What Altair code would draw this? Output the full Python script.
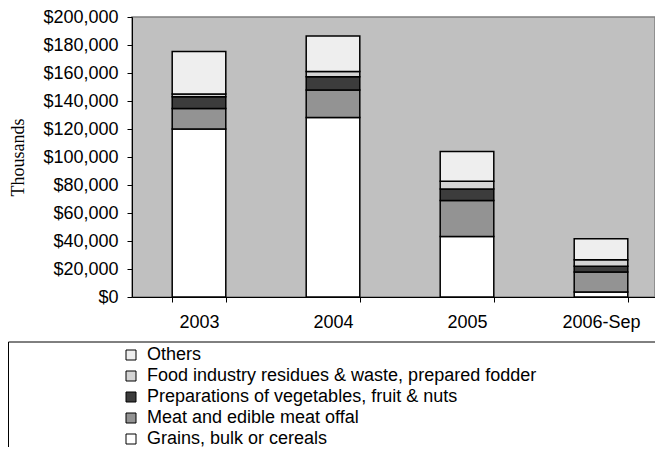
import altair as alt
import pandas as pd

years = ["2003", "2004", "2005", "2006-Sep"]
series = [
    "Grains, bulk or cereals",
    "Meat and edible meat offal",
    "Preparations of vegetables, fruit & nuts",
    "Food industry residues & waste, prepared fodder",
    "Others",
]
grains = [120000, 128300, 43200, 3600]
meat = [14700, 19500, 25700, 14200]
prep = [8300, 9500, 8300, 4100]
food = [2000, 3700, 5500, 4700]
others = [30300, 25500, 21300, 15000]
colors = ["#ffffff", "#939393", "#3c3c3c", "#d4d4d4", "#eeeeee"]
y_ticks = [0, 20000, 40000, 60000, 80000, 100000, 120000, 140000, 160000, 180000, 200000]

rows = []
for i, s in enumerate(series):
    vals = [grains, meat, prep, food, others][i]
    for y, v in zip(years, vals):
        rows.append({"year": y, "series": s, "value": v, "order": i})
df = pd.DataFrame(rows)

legend_order = list(reversed(series))
legend_colors = list(reversed(colors))

bars = alt.Chart(df).mark_bar(stroke="black", strokeWidth=1.5).encode(
    x=alt.X("year:N", sort=years, title=None,
            scale=alt.Scale(paddingInner=0.6, paddingOuter=0.3, range=[0, 536]),
            axis=alt.Axis(labelAngle=0, tickBand="extent", labelFontSize=18,
                          labelFont="Liberation Sans", labelColor="black",
                          domainColor="black", tickColor="black", tickSize=5,
                          labelPadding=11, domainWidth=1)),
    y=alt.Y("value:Q", stack="zero", title="Thousands",
            scale=alt.Scale(domain=[0, 200000], nice=False),
            axis=alt.Axis(values=y_ticks, format="$,.0f", grid=False,
                          labelFontSize=18, labelFont="Liberation Sans",
                          labelColor="black", domainColor="black",
                          tickColor="black", tickSize=5, labelPadding=9,
                          titleFont="Liberation Serif", titleFontSize=18,
                          titleFontWeight="normal", titleColor="black",
                          titleAngle=270, titleX=-114, titleY=140,
                          titleAlign="center", titleBaseline="middle")),
    fill=alt.Fill("series:N", sort=legend_order,
                  scale=alt.Scale(domain=legend_order, range=legend_colors),
                  legend=alt.Legend(title=None, orient="none", legendX=-10,
                                    legendY=329, symbolType="square",
                                    symbolSize=100, symbolStrokeColor="black",
                                    symbolStrokeWidth=1, labelFontSize=18,
                                    labelFont="Liberation Sans",
                                    labelColor="black", labelOffset=7,
                                    rowPadding=3, padding=0, labelLimit=600)),
    order=alt.Order("order:Q", sort="ascending"),
)

box = alt.Chart(pd.DataFrame({"k": [0]})).mark_rect(
    fill="white", fillOpacity=0, stroke="black", strokeWidth=1
).encode(
    x=alt.value(-123.5), x2=alt.value(560), y=alt.value(325), y2=alt.value(520)
)

chart = alt.layer(box, bars).properties(
    width=523, height=280,
    padding={"left": 124, "top": 9, "right": 0, "bottom": 150},
    autosize=alt.AutoSizeParams(type="none"),
    background="white",
).configure_view(
    fill="#c0c0c0", stroke="#808080", strokeWidth=1.5
)

chart.save("out.html", embed_options={"renderer": "svg", "actions": False})
